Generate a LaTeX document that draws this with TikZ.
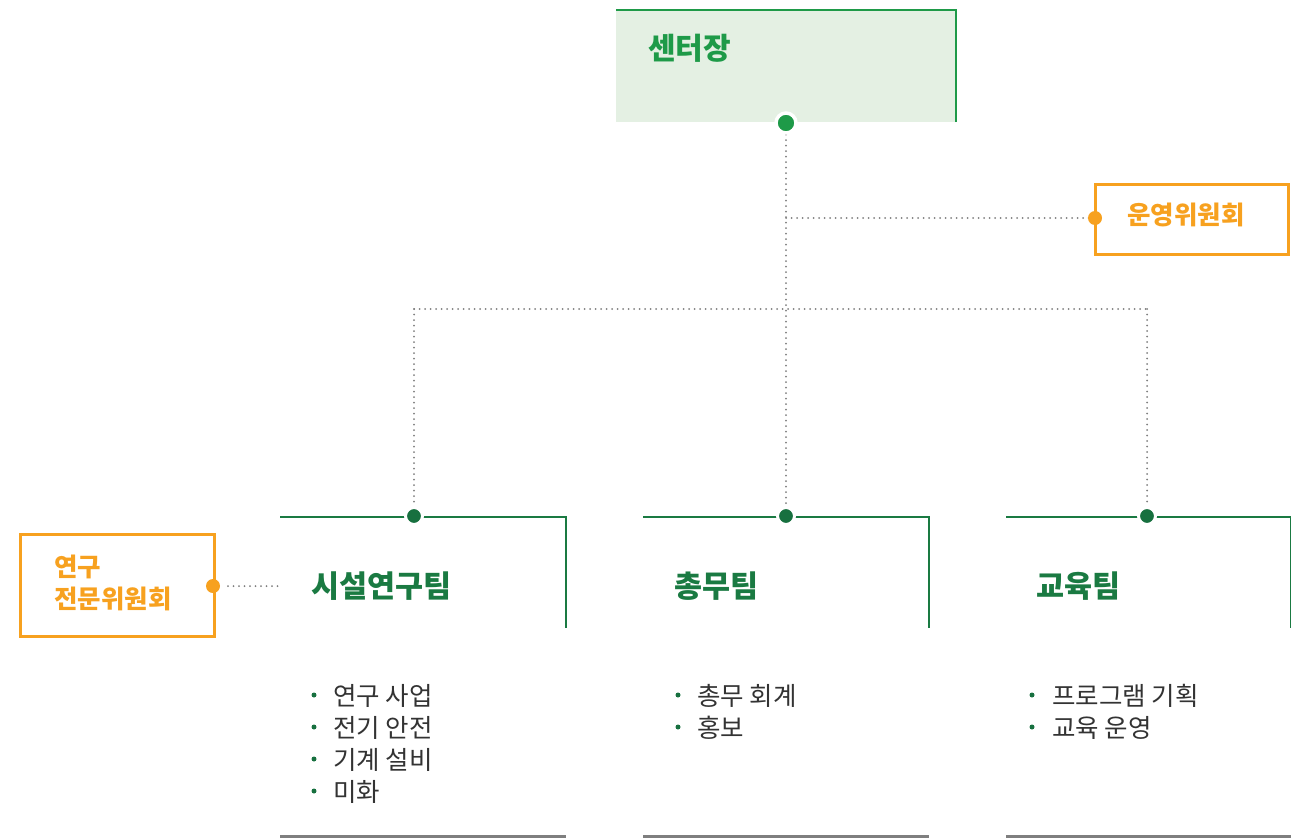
\documentclass[tikz,border=0pt]{standalone}
\usepackage{fontspec}
\setmainfont{Noto Sans CJK KR}
\definecolor{topgreen}{HTML}{1E9A48}
\definecolor{teamgreen}{HTML}{1A7A42}
\definecolor{dotgreen}{HTML}{17703F}
\definecolor{fillgreen}{HTML}{E4F0E3}
\definecolor{orng}{HTML}{F7A11F}
\definecolor{dotgray}{HTML}{7E7E7E}
\definecolor{txtgray}{HTML}{333333}
\definecolor{botgray}{HTML}{7F7F7F}
\tikzset{
  bosstext/.style={font=\fontsize{30}{34}\selectfont\bfseries, text=topgreen, anchor=west, inner sep=0pt},
  teamtext/.style={font=\fontsize{30.5}{34}\selectfont\bfseries, text=teamgreen, anchor=west, inner sep=0pt},
  comtext/.style={font=\fontsize{25.5}{32}\selectfont\bfseries, text=orng, inner sep=0pt},
  itemtext/.style={font=\fontsize{25.5}{32}\selectfont, text=txtgray, anchor=west, inner sep=0pt},
  bul/.style={circle, fill=dotgreen, inner sep=0pt, minimum size=5pt},
  gdot/.style={circle, fill=dotgreen, draw=white, line width=3pt, inner sep=0pt, minimum size=17pt},
  tdot/.style={circle, fill=topgreen, draw=white, line width=3.5pt, inner sep=0pt, minimum size=20pt},
  odot/.style={circle, fill=orng, inner sep=0pt, minimum size=14pt},
  combox/.style={draw=orng, line width=3pt, inner sep=0pt},
  dotline/.style={draw=dotgray, line width=2pt, line cap=round, dash pattern=on 0pt off 5.5pt},
  teamline/.style={draw=teamgreen, line width=2.6pt},
  botline/.style={draw=botgray, line width=3pt},
}
\begin{document}
\begin{tikzpicture}[x=1pt,y=-1pt]
\useasboundingbox (0,0) rectangle (1291,838);
% centre head box
\node[fill=fillgreen, minimum width=340pt, minimum height=112pt, inner sep=0pt] (boss) at (786,66) {};
\draw[draw=topgreen, line width=2.5pt] (boss.south east) -- (boss.north east) -- (boss.north west);
\node[bosstext] (bosst) at (648,48) {센터장};
% operating committee
\node[combox, minimum width=193pt, minimum height=70pt] (opc) at (1191.5,219) {};
\node[comtext] (opct) at (1186,215) {운영위원회};
% coordinates of the dotted tree
\coordinate (j1) at (786,218);
\coordinate (j2) at (786,309);
\coordinate (jl) at (414,309);
\coordinate (jr) at (1147,309);
% team frames
\draw[teamline] (280,517) -- (566,517) -- (566,628);
\draw[teamline] (643,517) -- (929,517) -- (929,628);
\draw[teamline] (1006,517) -- (1291,517) -- (1291,628);
\draw[botline] (280,836) -- (566,836);
\draw[botline] (643,836) -- (929,836);
\draw[botline] (1006,836) -- (1291,836);
% dotted connectors (drawn before the dots)
\node[inner sep=0pt] (bdc) at (786,123) {};
\node[inner sep=0pt] (t1c) at (414,516) {};
\node[inner sep=0pt] (t2c) at (786,516) {};
\node[inner sep=0pt] (t3c) at (1147,516) {};
\node[inner sep=0pt] (odc) at (1095,218) {};
\node[inner sep=0pt] (rdc) at (213,586) {};
\coordinate (rend) at (282,586);
\draw[dotline] (bdc) -- (t2c);
\draw[dotline] (j1) -- (odc);
\draw[dotline] (jl) -- (jr);
\draw[dotline] (jl) -- (t1c);
\draw[dotline] (jr) -- (t3c);
% dots
\node[tdot] (bd) at (bdc) {};
\node[gdot] (t1d) at (t1c) {};
\node[gdot] (t2d) at (t2c) {};
\node[gdot] (t3d) at (t3c) {};
\node[odot] (od) at (odc) {};
% research committee
\node[combox, minimum width=194pt, minimum height=102pt] (rc) at (117.5,585.5) {};
\node[comtext, anchor=west] (rct1) at (54,567) {연구};
\node[comtext, anchor=west] (rct2) at (54,599) {전문위원회};
\draw[dotline] (228,586) -- (rend);
\node[odot] (rd) at (rdc) {};
% team names
\node[teamtext] (t1) at (311,586) {시설연구팀};
\node[teamtext] (t2) at (674,586) {총무팀};
\node[teamtext] (t3) at (1036,586) {교육팀};
% team 1 items
\node[bul] (b11) at (314,695) {};
\node[itemtext] (i11) at (333,696) {연구 사업};
\node[bul] (b12) at (314,727) {};
\node[itemtext] (i12) at (333,728) {전기 안전};
\node[bul] (b13) at (314,759) {};
\node[itemtext] (i13) at (333,760) {기계 설비};
\node[bul] (b14) at (314,791) {};
\node[itemtext] (i14) at (333,792) {미화};
% team 2 items
\node[bul] (b21) at (678,695) {};
\node[itemtext] (i21) at (697,696) {총무 회계};
\node[bul] (b22) at (678,727) {};
\node[itemtext] (i22) at (697,728) {홍보};
% team 3 items
\node[bul] (b31) at (1032,695) {};
\node[itemtext] (i31) at (1052,696) {프로그램 기획};
\node[bul] (b32) at (1032,727) {};
\node[itemtext] (i32) at (1052,728) {교육 운영};
\end{tikzpicture}
\end{document}
